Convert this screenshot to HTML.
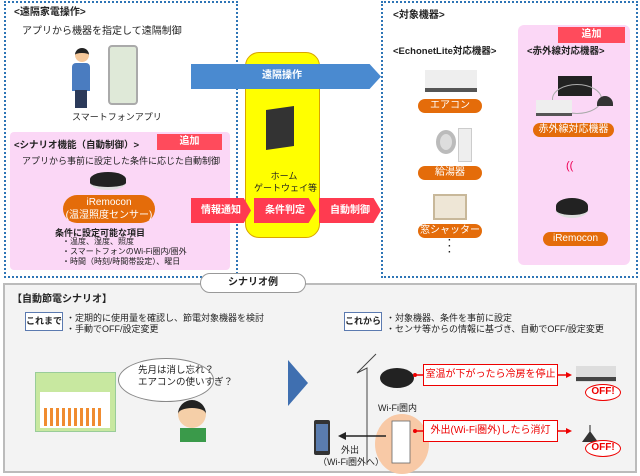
<!DOCTYPE html><html><head><meta charset="utf-8"><style>
*{margin:0;padding:0;box-sizing:border-box}
body{width:640px;height:476px;background:#fff;position:relative;overflow:hidden;font-family:"Liberation Sans","Noto Sans CJK JP",sans-serif;color:#222}
.a{position:absolute}
.t{position:absolute;white-space:nowrap;font-size:10px;line-height:12px}
.pill{position:absolute;background:#e46c0a;color:#fff;border-radius:8px;text-align:center;font-size:10px;line-height:14px;white-space:nowrap}
.tag{position:absolute;background:#ff4b5c;color:#fff;text-align:center;font-size:10px;font-weight:bold;line-height:16px}
.rar{position:absolute;height:25px;background:#ff3b50;color:#fff;font-size:10px;font-weight:bold;line-height:25px;text-align:center;clip-path:polygon(0 0,88% 0,100% 50%,88% 100%,0 100%)}
.dot{position:absolute;border:2px dotted #2e75b6}
.off{position:absolute;border:1.5px solid #e00;border-radius:50%;color:#e00;font-weight:bold;font-size:10px;text-align:center;background:#fff}
.rb{position:absolute;border:1.5px solid #e00;color:#e00;font-size:10px;text-align:center;line-height:19px;background:#fff;white-space:nowrap}
.kb{position:absolute;border:1px solid #5b7ab0;background:#fff;font-size:9px;text-align:center;line-height:17px;font-weight:bold;white-space:nowrap;height:19px}
</style></head><body>
<div class="dot" style="left:4px;top:1px;width:234px;height:277px"></div>
<div class="dot" style="left:381px;top:1px;width:257px;height:277px"></div>
<div class="t" style="left:14px;top:7px;font-weight:bold">&lt;遠隔家電操作&gt;</div>
<div class="t" style="left:22px;top:26px">アプリから機器を指定して遠隔制御</div>
<div class="a" style="left:75px;top:48px;width:14px;height:14px;border-radius:50%;background:#f5c89a;border-top:5px solid #222"></div>
<div class="a" style="left:72px;top:63px;width:18px;height:28px;background:#4a7cc0;border-radius:4px 4px 0 0"></div>
<div class="a" style="left:75px;top:90px;width:12px;height:18px;background:#2b3a5a"></div>
<div class="a" style="left:108px;top:45px;width:30px;height:60px;border:2px solid #aaa;border-radius:4px;background:#dfe9d8"></div>
<div class="t" style="left:72px;top:111px;font-size:9px">スマートフォンアプリ</div>
<div class="a" style="left:10px;top:132px;width:220px;height:138px;background:#fbd7f6;border-radius:4px"></div>
<div class="t" style="left:14px;top:140px;font-weight:bold;font-size:9.5px">&lt;シナリオ機能（自動制御）&gt;</div>
<div class="tag" style="left:157px;top:134px;width:65px">追加</div>
<div class="t" style="left:22px;top:155px;font-size:9px">アプリから事前に設定した条件に応じた自動制御</div>
<div class="a" style="left:90px;top:172px;width:36px;height:18px;border-radius:50%/40%;background:#222;border-bottom:3px solid #ddd"></div>
<div class="pill" style="left:63px;top:195px;width:92px;height:28px;border-radius:14px;line-height:13px;padding-top:1px">iRemocon<br>(温湿照度センサー)</div>
<div class="t" style="left:55px;top:227px;font-weight:bold;font-size:9px">条件に設定可能な項目</div>
<div class="t" style="left:62px;top:237px;font-size:8px;line-height:10px">・温度、湿度、照度<br>・スマートフォンのWi-Fi圏内/圏外<br>・時間（時刻/時間帯設定）、曜日</div>
<div class="a" style="left:245px;top:52px;width:75px;height:186px;background:#ffff00;border:1.5px solid #d9a400;border-radius:14px"></div>
<div class="a" style="left:266px;top:108px;width:28px;height:40px;background:#333;transform:skewY(-8deg)"></div>
<div class="t" style="left:266px;top:170px;font-size:9px;text-align:center;width:36px">ホーム</div>
<div class="t" style="left:254px;top:182px;font-size:9px">ゲートウェイ等</div>
<div class="a" style="left:191px;top:64px;width:190px;height:25px;background:#4a8ad0;clip-path:polygon(0 0,94% 0,100% 50%,94% 100%,0 100%)"></div>
<div class="t" style="left:262px;top:70px;color:#fff;font-weight:bold">遠隔操作</div>
<div class="rar" style="left:191px;top:198px;width:60px">情報通知</div>
<div class="rar" style="left:254px;top:198px;width:62px">条件判定</div>
<div class="rar" style="left:319px;top:198px;width:62px">自動制御</div>
<div class="t" style="left:393px;top:10px;font-weight:bold">&lt;対象機器&gt;</div>
<div class="a" style="left:518px;top:25px;width:112px;height:240px;background:#fbd7f6;border-radius:6px"></div>
<div class="tag" style="left:558px;top:27px;width:67px">追加</div>
<div class="t" style="left:393px;top:46px;font-weight:bold;font-size:9.5px">&lt;EchonetLite対応機器&gt;</div>
<div class="t" style="left:527px;top:46px;font-weight:bold;font-size:9.5px">&lt;赤外線対応機器&gt;</div>
<div class="a" style="left:425px;top:70px;width:52px;height:22px;background:#eee;border-bottom:4px solid #555"></div>
<div class="pill" style="left:418px;top:99px;width:64px">エアコン</div>
<div class="a" style="left:436px;top:130px;width:20px;height:24px;background:#ddd;border-radius:50%;border:4px solid #bbb"></div>
<div class="a" style="left:458px;top:128px;width:14px;height:34px;background:#eee;border:1px solid #ccc"></div>
<div class="pill" style="left:418px;top:166px;width:64px">給湯器</div>
<div class="a" style="left:433px;top:194px;width:34px;height:26px;background:#eee6d6;border:2px solid #c8b89a"></div>
<div class="pill" style="left:418px;top:224px;width:64px">窓シャッター</div>
<div class="t" style="left:448px;top:238px;font-weight:bold;line-height:6px">·<br>·<br>·</div>
<div class="a" style="left:558px;top:76px;width:34px;height:20px;background:#222"></div>
<div class="a" style="left:552px;top:84px;width:50px;height:30px;border:1.5px solid #aaa;border-radius:50%"></div>
<div class="a" style="left:536px;top:100px;width:36px;height:16px;background:#eee;border-bottom:3px solid #555"></div>
<div class="a" style="left:597px;top:96px;width:16px;height:10px;background:#333;border-radius:8px 8px 0 0"></div>
<div class="pill" style="left:533px;top:123px;width:81px">赤外線対応機器</div>
<div class="t" style="left:566px;top:160px;color:#e05;font-size:11px">((</div>
<div class="a" style="left:556px;top:198px;width:32px;height:20px;border-radius:50%/40%;background:#222;border-bottom:3px solid #ddd"></div>
<div class="pill" style="left:543px;top:232px;width:65px">iRemocon</div>
<div class="a" style="left:3px;top:283px;width:634px;height:190px;background:#f3f3f3;border:2px solid #bbb"></div>
<div class="a" style="left:200px;top:273px;width:106px;height:20px;background:#fff;border:1.5px solid #999;border-radius:10px;text-align:center;font-size:10px;line-height:17px;font-weight:bold">シナリオ例</div>
<div class="t" style="left:12px;top:294px;font-weight:bold">【自動節電シナリオ】</div>
<div class="kb" style="left:25px;top:312px;width:38px">これまで</div>
<div class="t" style="left:66px;top:313px;font-size:9px;line-height:11px">・定期的に使用量を確認し、節電対象機器を検討<br>・手動でOFF/設定変更</div>
<div class="kb" style="left:344px;top:312px;width:38px">これから</div>
<div class="t" style="left:386px;top:313px;font-size:9px;line-height:11px">・対象機器、条件を事前に設定<br>・センサ等からの情報に基づき、自動でOFF/設定変更</div>
<div class="a" style="left:35px;top:372px;width:81px;height:60px;background:#c8e8a0;border:1px solid #9c9"></div>
<div class="a" style="left:40px;top:392px;width:70px;height:36px;background:#fff"></div>
<div class="a" style="left:44px;top:408px;width:60px;height:18px;background:repeating-linear-gradient(90deg,#f08c30 0 3px,transparent 3px 6px)"></div>
<div class="a" style="left:118px;top:358px;width:96px;height:44px;background:#fff;border:1px solid #888;border-radius:50%"></div>
<div class="t" style="left:138px;top:365px;font-size:9.5px;line-height:12px">先月は消し忘れ？<br>エアコンの使いすぎ？</div>
<div class="a" style="left:178px;top:400px;width:28px;height:28px;border-radius:50%;background:#f5cfa8;border-top:8px solid #222"></div>
<div class="a" style="left:180px;top:428px;width:26px;height:14px;background:#3a9a4a"></div>
<div class="a" style="left:288px;top:360px;width:20px;height:46px;background:#3f6fb0;clip-path:polygon(0 0,100% 50%,0 100%)"></div>
<svg class="a" style="left:0;top:0" width="640" height="476">
<polyline points="367,465 367,368 357,373 376,354" fill="none" stroke="#444" stroke-width="1"/>
<ellipse cx="402" cy="444" rx="27" ry="30" fill="#f8c9a6"/>
<rect x="392" y="421" width="18" height="42" fill="#fff" stroke="#666" stroke-width="0.8"/>
<line x1="386" y1="436" x2="342" y2="436" stroke="#222" stroke-width="1.5"/>
<polygon points="338,436 346,432 346,440" fill="#222"/>
<rect x="314" y="420" width="16" height="35" rx="2" fill="#333"/>
<rect x="316" y="424" width="12" height="27" fill="#5a7cae"/>
<ellipse cx="397" cy="378" rx="17" ry="10" fill="#222"/>
<line x1="415" y1="375" x2="423" y2="375" stroke="#e00" stroke-width="1.5"/><circle cx="415" cy="375" r="2" fill="#e00"/>
<line x1="415" y1="431" x2="423" y2="431" stroke="#e00" stroke-width="1.5"/><circle cx="415" cy="431" r="2" fill="#e00"/>
<line x1="558" y1="375" x2="568" y2="375" stroke="#e00" stroke-width="1.5"/><polygon points="572,375 566,372 566,378" fill="#e00"/>
<line x1="558" y1="431" x2="568" y2="431" stroke="#e00" stroke-width="1.5"/><polygon points="572,431 566,428 566,434" fill="#e00"/>
<rect x="576" y="366" width="40" height="16" fill="#ddd"/><rect x="576" y="377" width="40" height="4" fill="#444"/>
<line x1="590" y1="425" x2="590" y2="432" stroke="#222"/><polygon points="582,442 598,442 590,431" fill="#333"/>
</svg>
<div class="rb" style="left:423px;top:364px;width:135px;height:22px">室温が下がったら冷房を停止</div>
<div class="rb" style="left:423px;top:420px;width:135px;height:22px">外出(Wi-Fi圏外)したら消灯</div>
<div class="off" style="left:585px;top:384px;width:36px;height:17px;line-height:14px">OFF!</div>
<div class="off" style="left:585px;top:440px;width:36px;height:17px;line-height:14px">OFF!</div>
<div class="t" style="left:378px;top:402px;font-size:9px">Wi-Fi圏内</div>
<div class="t" style="left:341px;top:444px;font-size:9px">外出</div>
<div class="t" style="left:318px;top:456px;font-size:9px">（Wi-Fi圏外へ）</div>
</body></html>
